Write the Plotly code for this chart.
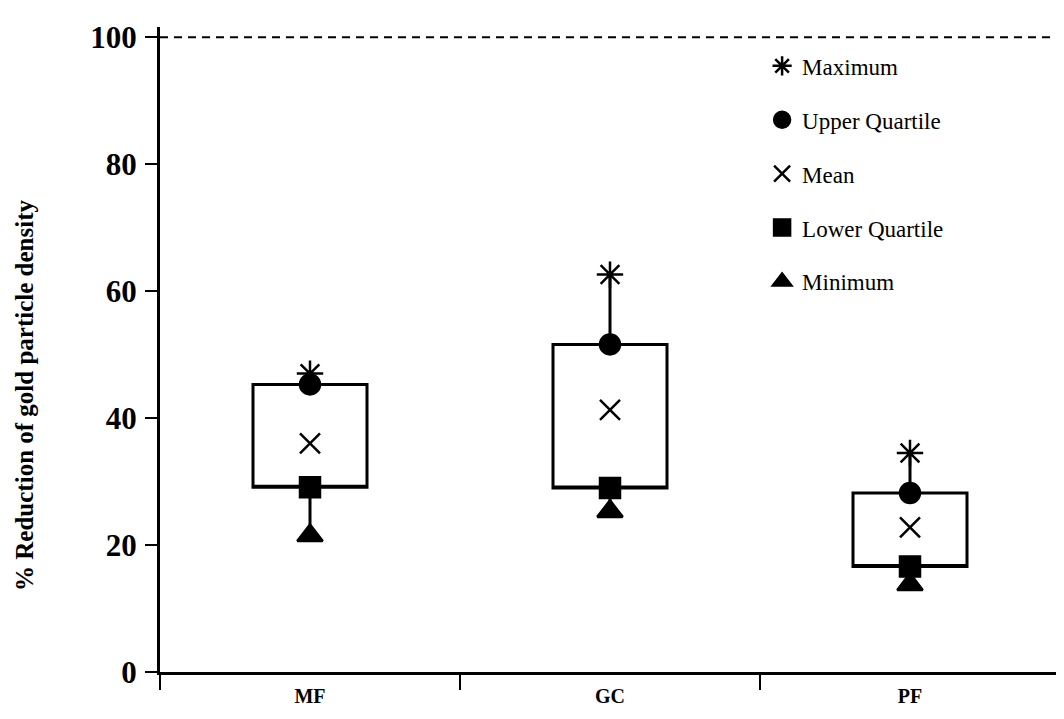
import plotly.graph_objects as go

# values (% reduction of gold particle density)
groups = ["MF", "GC", "PF"]
maximum = [47.0, 62.6, 34.5]
upper_q = [45.3, 51.6, 28.2]
mean = [36.0, 41.3, 22.8]
lower_q = [29.1, 29.0, 16.6]
minimum = [21.5, 25.3, 13.8]

y_ticks = [0, 20, 40, 60, 80, 100]

SERIF = "Liberation Serif, Times New Roman, serif"

fig = go.Figure()

# box from lower to upper quartile, whiskers to min and max
fig.add_trace(go.Box(
    x=groups,
    q1=lower_q,
    median=lower_q,
    q3=upper_q,
    lowerfence=minimum,
    upperfence=maximum,
    width=0.38,
    whiskerwidth=0,
    fillcolor="white",
    line=dict(color="black", width=3),
    hoverinfo="skip",
    showlegend=False))

# marker series, one per statistic
markers = [
    ("Maximum", maximum, "asterisk-open", 22),
    ("Upper Quartile", upper_q, "circle", 20),
    ("Mean", mean, "x-thin-open", 20),
    ("Lower Quartile", lower_q, "square", 20),
    ("Minimum", minimum, "triangle-up", 22),
]
for name, vals, sym, size in markers:
    fig.add_trace(go.Scatter(
        name=name,
        x=groups,
        y=vals,
        mode="markers",
        legendgroup=name,
        marker=dict(symbol=sym, size=size, color="black",
                    line=dict(color="black", width=2.5))))

# dashed reference line at 100 %
fig.add_shape(type="line", xref="paper", x0=0, x1=1, yref="y", y0=100, y1=100,
              line=dict(color="black", width=2, dash="8px,6px"))

fig.add_annotation(
    text="% Reduction of gold particle density",
    xref="paper", yref="paper", x=-0.15, y=0.428,
    xanchor="center", yanchor="middle",
    textangle=-90, showarrow=False,
    font=dict(family=SERIF, size=25, color="black", weight="bold"))

# page body has an 8px margin, so the margins are shifted to compensate
fig.update_layout(
    width=1064,
    height=719,
    margin=dict(l=152, r=12, t=17, b=55),
    plot_bgcolor="white",
    paper_bgcolor="white",
    font=dict(family=SERIF, color="black"),
    legend=dict(x=0.669, y=0.973, xanchor="left", yanchor="top",
                traceorder="grouped", tracegroupgap=21,
                bgcolor="rgba(0,0,0,0)",
                font=dict(family=SERIF, size=23, color="black")),
    xaxis=dict(type="category", categoryorder="array", categoryarray=groups,
               range=[-0.5, 2.5], showline=True, linecolor="black", linewidth=3,
               ticks="outside", ticklen=15, tickwidth=2, tickcolor="black",
               tickson="boundaries", showgrid=False, zeroline=False,
               ticklabelstandoff=4,
               tickfont=dict(family=SERIF, size=20, color="black", weight="bold")),
    yaxis=dict(range=[0, 101.6], tickvals=y_ticks, showline=True,
               linecolor="black", linewidth=3, ticks="outside", ticklen=12,
               tickwidth=2, tickcolor="black", showgrid=False, zeroline=False,
               ticklabelstandoff=2,
               tickfont=dict(family=SERIF, size=31, color="black", weight="bold")),
)

fig.write_html("out.html")
